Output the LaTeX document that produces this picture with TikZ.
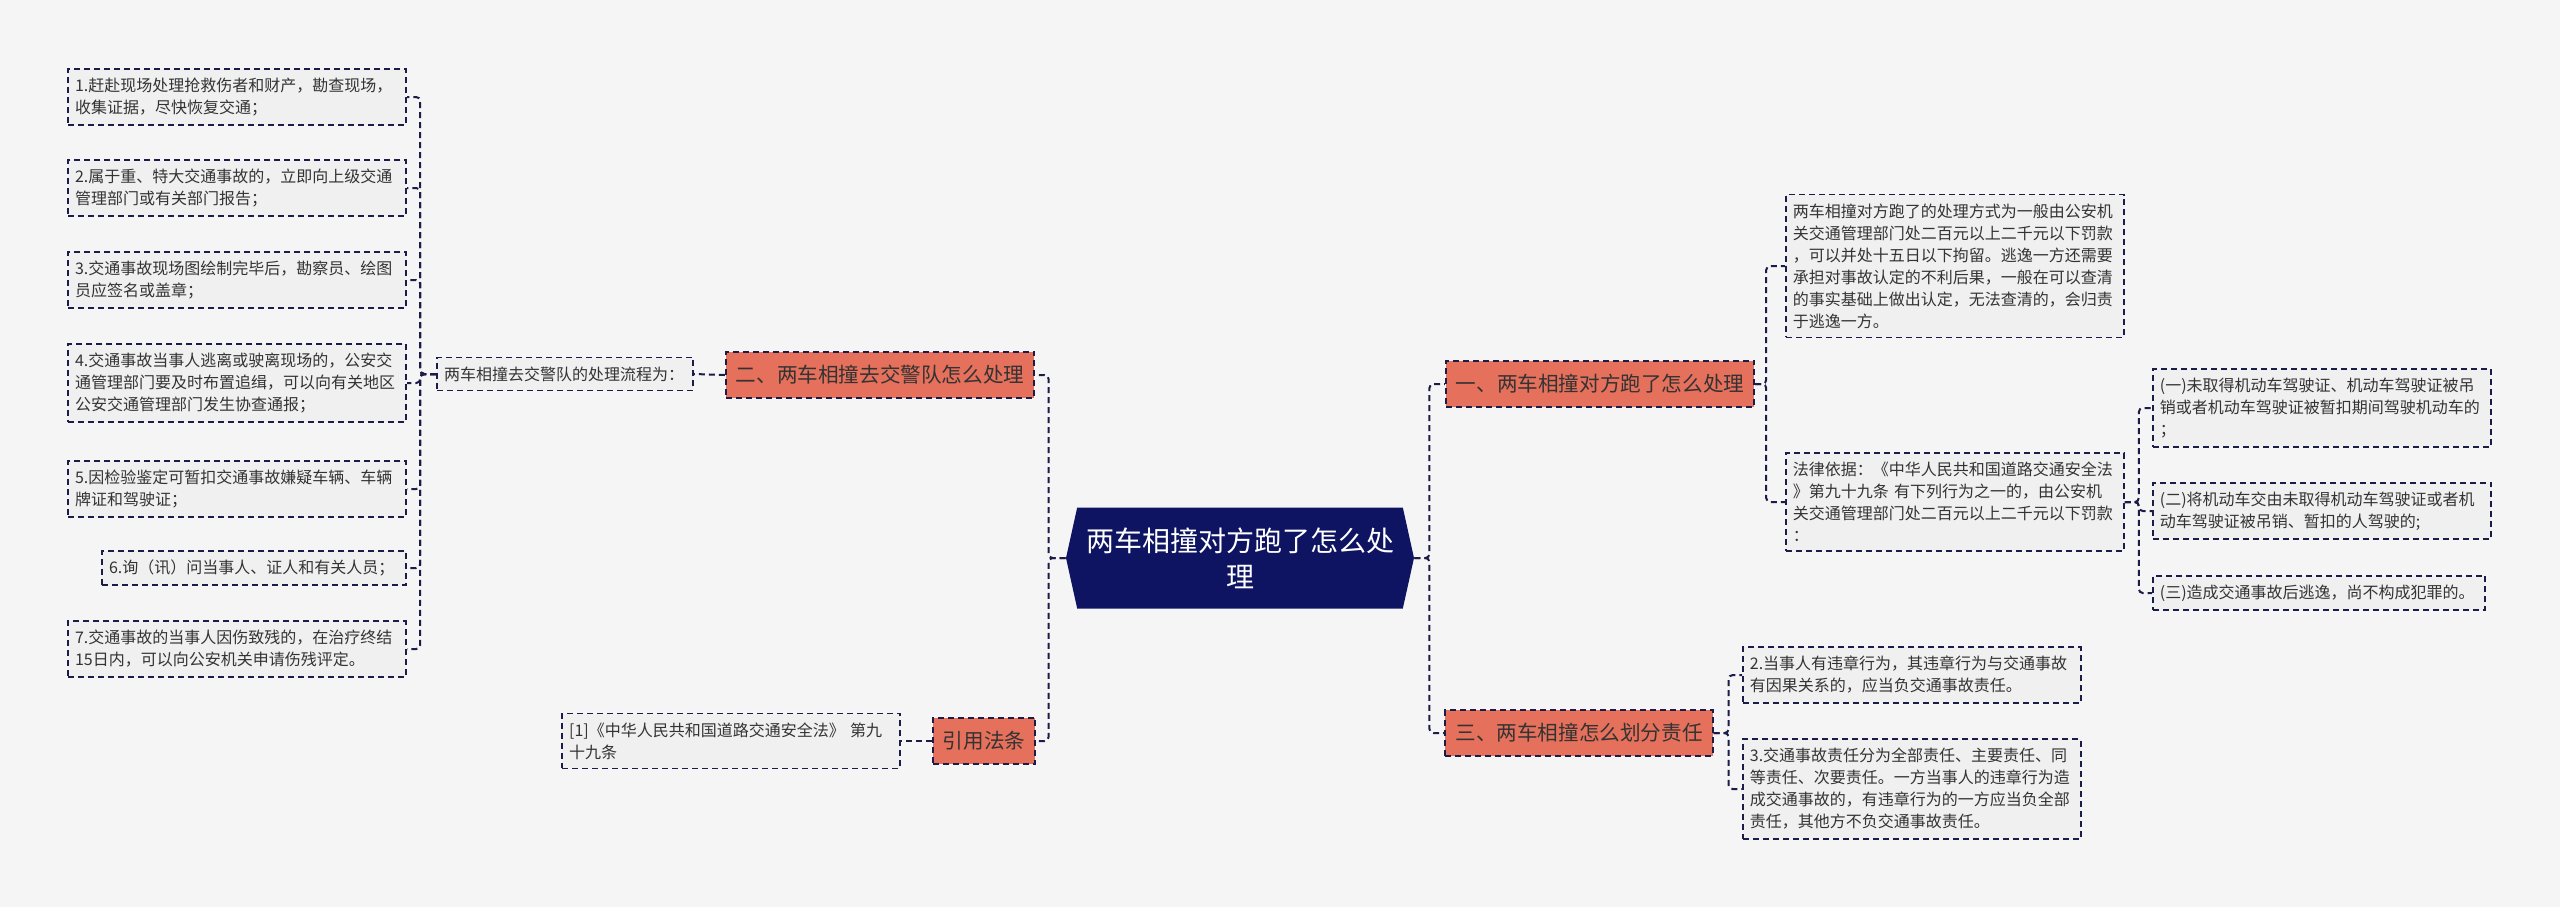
\documentclass[tikz,border=0pt]{standalone}
\usepackage{fontspec}
\setmainfont{Noto Sans CJK SC}
\usetikzlibrary{shapes.symbols}
\definecolor{bgcol}{HTML}{F5F5F5}
\definecolor{linecol}{HTML}{1C1C48}
\definecolor{rootcol}{HTML}{0E1462}
\definecolor{branchcol}{HTML}{E5705B}
\definecolor{leafcol}{HTML}{F0F0F0}
\definecolor{textcol}{HTML}{333333}
\tikzset{
  conn/.style={draw=linecol, line width=1pt, dash pattern=on 3pt off 2pt, rounded corners=2pt},
  rootnode/.style={signal, signal to=west and east, signal pointer angle=155, fill=rootcol,
    text=white, minimum width=174pt, minimum height=50.5pt, inner sep=2pt, align=center,
    font=\fontsize{14}{18}\selectfont},
  branch/.style={fill=branchcol, draw=linecol, line width=1pt, dash pattern=on 3pt off 2pt,
    text=textcol, inner xsep=5pt, minimum height=23pt, font=\fontsize{10.3}{13}\selectfont},
  leaf/.style={fill=leafcol, draw=linecol, line width=0.9pt, dash pattern=on 3pt off 2pt,
    text=textcol, inner xsep=3.5pt, inner ysep=4.5pt, text width=162pt, align=left,
    font=\fontsize{8}{11}\selectfont},
}
\begin{document}
\begin{tikzpicture}[x=0.5pt, y=-0.5pt]
  \useasboundingbox (0,0) rectangle (2560,907);
  \fill[bgcol] (0,0) rectangle (2560,907);

  \node[rootnode] (root) at (1240,558) {两车相撞对方跑了怎么处\\理};

  \node[branch] (b1) at (1600,384) {一、两车相撞对方跑了怎么处理};
  \node[branch] (b2) at (880,375) {二、两车相撞去交警队怎么处理};
  \node[branch] (b3) at (1579,733) {三、两车相撞怎么划分责任};
  \node[branch] (b4) at (984,741) {引用法条};

  \node[leaf, text width=121pt, anchor=east] (flow) at (694,374) {两车相撞去交警队的处理流程为：};
  \node[leaf, anchor=east] (ref) at (901,741) {[1]《中华人民共和国道路交通安全法》 第九\\十九条};

  \node[leaf, anchor=east] (l1) at (407,97) {1.赶赴现场处理抢救伤者和财产，勘查现场，\\收集证据，尽快恢复交通；};
  \node[leaf, anchor=east] (l2) at (407,188) {2.属于重、特大交通事故的，立即向上级交通\\管理部门或有关部门报告；};
  \node[leaf, anchor=east] (l3) at (407,280) {3.交通事故现场图绘制完毕后，勘察员、绘图\\员应签名或盖章；};
  \node[leaf, anchor=east] (l4) at (407,383) {4.交通事故当事人逃离或驶离现场的，公安交\\通管理部门要及时布置追缉，可以向有关地区\\公安交通管理部门发生协查通报；};
  \node[leaf, anchor=east] (l5) at (407,489) {5.因检验鉴定可暂扣交通事故嫌疑车辆、车辆\\牌证和驾驶证；};
  \node[leaf, text width=145pt, anchor=east] (l6) at (407,568) {6.询（讯）问当事人、证人和有关人员；};
  \node[leaf, anchor=east] (l7) at (407,649) {7.交通事故的当事人因伤致残的，在治疗终结\\15日内，可以向公安机关申请伤残评定。};

  \node[leaf, anchor=west] (ra) at (1785,266) {两车相撞对方跑了的处理方式为一般由公安机\\关交通管理部门处二百元以上二千元以下罚款\\，可以并处十五日以下拘留。逃逸一方还需要\\承担对事故认定的不利后果，一般在可以查清\\的事实基础上做出认定，无法查清的，会归责\\于逃逸一方。};
  \node[leaf, anchor=west] (rb) at (1785,502) {法律依据：《中华人民共和国道路交通安全法\\》第九十九条 有下列行为之一的，由公安机\\关交通管理部门处二百元以上二千元以下罚款\\：};

  \node[leaf, anchor=west] (s1) at (2152,408) {(一)未取得机动车驾驶证、机动车驾驶证被吊\\销或者机动车驾驶证被暂扣期间驾驶机动车的\\；};
  \node[leaf, anchor=west] (s2) at (2152,511) {(二)将机动车交由未取得机动车驾驶证或者机\\动车驾驶证被吊销、暂扣的人驾驶的;};
  \node[leaf, text width=159pt, anchor=west] (s3) at (2152,593) {(三)造成交通事故后逃逸，尚不构成犯罪的。};

  \node[leaf, anchor=west] (t2) at (1742,675) {2.当事人有违章行为，其违章行为与交通事故\\有因果关系的，应当负交通事故责任。};
  \node[leaf, anchor=west] (t3) at (1742,789) {3.交通事故责任分为全部责任、主要责任、同\\等责任、次要责任。一方当事人的违章行为造\\成交通事故的，有违章行为的一方应当负全部\\责任，其他方不负交通事故责任。};

  \draw[conn] (root.east) -- ++(15,0) |- (b1.west);
  \draw[conn] (root.east) -- ++(15,0) |- (b3.west);
  \draw[conn] (root.west) -- ++(-17,0) |- (b2.east);
  \draw[conn] (root.west) -- ++(-17,0) |- (b4.east);
  \draw[conn] (b2.west) -- (flow.east);
  \draw[conn] (b4.west) -- (ref.east);
  \foreach \i in {1,...,7}
    \draw[conn] (flow.west) -- ++(-16,0) |- (l\i.east);
  \draw[conn] (b1.east) -- ++(11,0) |- (ra.west);
  \draw[conn] (b1.east) -- ++(11,0) |- (rb.west);
  \foreach \i in {1,2,3}
    \draw[conn] (rb.east) -- ++(14,0) |- (s\i.west);
  \draw[conn] (b3.east) -- ++(15,0) |- (t2.west);
  \draw[conn] (b3.east) -- ++(15,0) |- (t3.west);
\end{tikzpicture}
\end{document}
